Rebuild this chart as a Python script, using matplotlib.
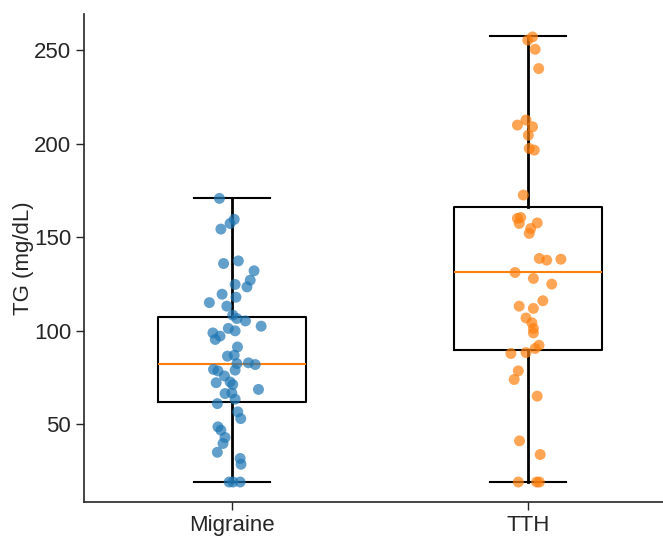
import matplotlib

matplotlib.use("Agg")

import matplotlib.pyplot as plt  # noqa: E402

plt.rcParams["font.family"] = ["Liberation Sans", "DejaVu Sans"]

groups = ["Migraine", "TTH"]
colors = ["#1f77b4", "#ff7f0e"]

# box summary (whiskers span min..max)
q1 = [61.8, 89.6]
med = [82.1, 131.3]
q3 = [107.2, 166.0]
whislo = [19.1, 19.1]
whishi = [170.7, 257.5]

migraine_tg = [
    170.7, 159.5, 157.3, 154.3, 135.9, 137.3, 132.0, 127.0, 123.4, 124.7,
    119.5, 117.9, 115.0, 113.1, 108.3, 106.5, 105.2, 102.4, 101.2, 99.9,
    98.8, 97.1, 95.3, 91.3, 86.4, 86.9, 82.4, 82.8, 81.9, 79.3,
    78.5, 78.9, 75.8, 72.2, 72.6, 71.2, 68.6, 66.4, 66.7, 63.4,
    61.0, 56.6, 53.0, 48.6, 46.8, 42.9, 39.7, 35.0, 31.7, 28.6,
    19.1, 19.1, 19.1,
]
migraine_jitter = [
    -0.043, 0.007, -0.007, -0.038, -0.029, 0.021, 0.074, 0.061, 0.050, 0.010,
    -0.034, 0.013, -0.077, -0.018, 0.002, 0.016, 0.045, 0.098, -0.013, 0.010,
    -0.065, -0.041, -0.057, 0.018, -0.016, 0.007, 0.016, 0.055, 0.078, -0.063,
    -0.048, 0.010, -0.026, -0.054, -0.007, 0.002, 0.089, -0.024, -0.001, 0.010,
    -0.050, 0.019, 0.029, -0.048, -0.038, -0.024, -0.031, -0.050, 0.027, 0.030,
    -0.010, 0.003, 0.027,
]

tth_tg = [
    257.0, 255.3, 250.4, 240.1, 212.6, 209.9, 209.0, 204.5, 197.4, 196.5,
    172.5, 160.0, 160.5, 157.3, 157.6, 154.6, 152.0, 138.6, 137.7, 138.2,
    131.1, 127.9, 124.9, 116.0, 113.1, 111.9, 106.8, 104.2, 101.2, 98.8,
    92.2, 90.5, 88.3, 87.8, 78.5, 73.9, 65.0, 41.1, 33.8, 19.1,
    19.1, 19.1,
]
tth_jitter = [
    0.015, -0.001, 0.024, 0.036, -0.007, -0.036, 0.015, 0.001, 0.004, 0.021,
    -0.016, -0.036, -0.025, -0.030, 0.031, 0.009, 0.004, 0.038, 0.063, 0.111,
    -0.044, 0.018, 0.080, 0.050, -0.030, 0.018, -0.007, 0.013, 0.018, 0.018,
    0.037, 0.024, -0.007, -0.058, -0.033, -0.047, 0.031, -0.029, 0.041, -0.033,
    0.029, 0.038,
]

values = [migraine_tg, tth_tg]
jitters = [migraine_jitter, tth_jitter]

dark = "#262626"

fig = plt.figure(figsize=(6.63, 5.36), dpi=100)
ax = fig.add_axes([0.127, 0.063, 0.873, 0.911])

stats = [
    {"q1": q1[i], "med": med[i], "q3": q3[i],
     "whislo": whislo[i], "whishi": whishi[i], "fliers": [], "label": groups[i]}
    for i in range(len(groups))
]
ax.bxp(
    stats,
    positions=[1, 2],
    widths=0.5,
    capwidths=0.256,
    boxprops=dict(color="black", linewidth=1.5),
    whiskerprops=dict(color="black", linewidth=2.0),
    capprops=dict(color="black", linewidth=1.5),
    medianprops=dict(color="#ff7f0e", linewidth=1.5),
    showfliers=False,
    zorder=1,
)

for i, (vals, jit) in enumerate(zip(values, jitters)):
    xs = [i + 1 + j for j in jit]
    ax.scatter(xs, vals, s=62, color=colors[i], alpha=0.7,
               edgecolors="none", zorder=3)

ax.set_xlim(0.5, 2.456)
ax.set_ylim(8.3, 269.3)
ax.set_xticks([1, 2])
ax.set_xticklabels(groups)
ax.set_yticks([50, 100, 150, 200, 250])
ax.set_ylabel("TG (mg/dL)", fontsize=16, color=dark, labelpad=0)
ax.tick_params(axis="both", labelsize=16, direction="out", length=6,
               width=1.0, color=dark, labelcolor=dark)
for side in ("top", "right"):
    ax.spines[side].set_visible(False)
for side in ("left", "bottom"):
    ax.spines[side].set_color(dark)
    ax.spines[side].set_linewidth(1.2)

fig.savefig("out.png", dpi=100)
